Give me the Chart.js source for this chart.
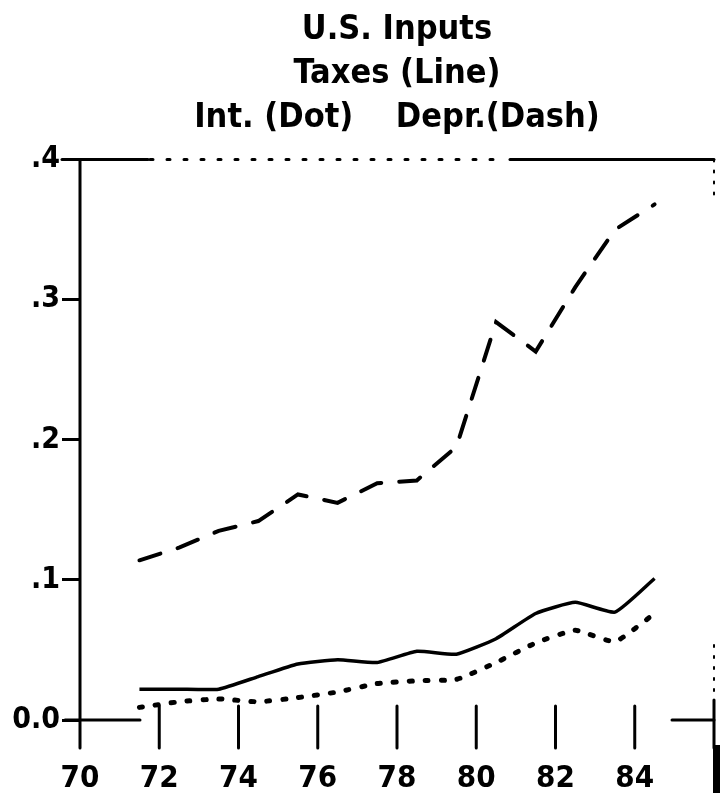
<!DOCTYPE html>
<html>
<head>
<meta charset="utf-8">
<script src="https://cdn.jsdelivr.net/npm/chart.js@4/dist/chart.umd.min.js"></script>
<style>
  html, body { margin: 0; padding: 0; background: #fff; }
  canvas { display: block; }
</style>
</head>
<body>
<canvas id="inputs-chart" width="720" height="803"></canvas>
<script>
// annual data, plotted at mid-year
const years = [1971, 1972, 1973, 1974, 1975, 1976, 1977, 1978, 1979, 1980, 1981, 1982, 1983, 1984];
const taxes = [0.022, 0.022, 0.022, 0.031, 0.040, 0.043, 0.041, 0.049, 0.047, 0.058, 0.076, 0.084, 0.077, 0.101];
const interest = [0.009, 0.013, 0.015, 0.013, 0.016, 0.020, 0.026, 0.028, 0.029, 0.041, 0.055, 0.064, 0.056, 0.076];
const depreciation = [0.114, 0.123, 0.135, 0.142, 0.161, 0.155, 0.169, 0.171, 0.195, 0.284, 0.263, 0.309, 0.350, 0.368];

const xTicks = [70, 72, 74, 76, 78, 80, 82, 84, 86];
const yTicks = [0, 0.1, 0.2, 0.3, 0.4];
const titleLines = ['U.S. Inputs', 'Taxes (Line)', 'Int. (Dot)    Depr.(Dash)'];

const FONT = "'Liberation Sans Narrow', 'DejaVu Sans Condensed', sans-serif";

function toPoints(values) {
    return values.map((v, i) => ({ x: years[i] - 1900 + 0.5, y: v }));
}

// plotter-style axis decorations (frame, crossing tick marks)
const axisDecor = {
    id: 'axisDecor',
    afterDraw(chart) {
        const ctx = chart.ctx;
        const a = chart.chartArea;
        const x = chart.scales.x;
        ctx.save();
        ctx.strokeStyle = '#000';
        ctx.lineWidth = 3;
        ctx.lineCap = 'round';
        const seg = (x1, y1, x2, y2) => {
            ctx.beginPath(); ctx.moveTo(x1, y1); ctx.lineTo(x2, y2); ctx.stroke();
        };
        // y axis
        seg(a.left, a.top, a.left, a.bottom + 28);
        // top frame, faded in the middle
        seg(a.left - 18, a.top, a.left + 68, a.top);
        ctx.setLineDash([3, 14]);
        seg(a.left + 70, a.top, a.left + 425, a.top);
        ctx.setLineDash([]);
        seg(a.left + 430, a.top, a.right, a.top);
        // right edge, dotted
        ctx.lineWidth = 2;
        ctx.setLineDash([2, 9]);
        seg(a.right, a.top, a.right, a.top + 35);
        seg(a.right, a.bottom - 75, a.right, a.bottom - 20);
        ctx.setLineDash([]);
        ctx.lineWidth = 3;
        seg(a.right, a.bottom - 20, a.right, a.bottom + 28);
        // zero line pieces
        seg(a.left - 15, a.bottom, a.left + 60, a.bottom);
        seg(a.right - 42, a.bottom, a.right, a.bottom);
        // x tick marks crossing the axis
        xTicks.slice(1, -1).forEach(v => {
            const px = x.getPixelForValue(v);
            seg(px, a.bottom - 14, px, a.bottom + 28);
        });
        // clipped last label
        ctx.fillStyle = '#000';
        ctx.fillRect(a.right - 1, a.bottom + 25, 10, 48);
        ctx.restore();
    }
};

const data = {
    datasets: [
        {
            label: 'Taxes',
            data: toPoints(taxes),
            borderColor: '#000',
            borderWidth: 3.5,
            pointRadius: 0,
            tension: 0.15,
            borderJoinStyle: 'round'
        },
        {
            label: 'Int.',
            data: toPoints(interest),
            borderColor: '#000',
            borderWidth: 5,
            borderDash: [3, 13],
            borderCapStyle: 'round',
            pointRadius: 0,
            tension: 0.15
        },
        {
            label: 'Depr.',
            data: toPoints(depreciation),
            borderColor: '#000',
            borderWidth: 4,
            borderDash: [22, 18],
            borderCapStyle: 'round',
            pointRadius: 0,
            tension: 0
        }
    ]
};

const config = {
    type: 'line',
    data: data,
    plugins: [axisDecor],
    options: {
        responsive: false,
        animation: false,
        layout: { padding: { left: 0, right: 6, top: 0, bottom: 0 } },
        scales: {
            x: {
                type: 'linear',
                min: 70,
                max: 86,
                afterBuildTicks: s => { s.ticks = xTicks.map(v => ({ value: v })); },
                afterFit: s => { s.height = 83; s.paddingRight = 0; s.paddingLeft = 0; },
                grid: { display: false, drawTicks: false },
                border: { display: false },
                ticks: {
                    color: '#000',
                    padding: 40,
                    maxRotation: 0,
                    font: { family: FONT, size: 31, weight: 'bold' },
                    callback: v => (v < 86 ? String(v) : '')
                }
            },
            y: {
                min: 0,
                max: 0.4,
                afterBuildTicks: s => { s.ticks = yTicks.map(v => ({ value: v })); },
                afterFit: s => { s.width = 80; },
                grid: {
                    display: true,
                    drawOnChartArea: false,
                    drawTicks: true,
                    tickLength: 18,
                    lineWidth: 3,
                    color: '#000'
                },
                border: { display: false },
                ticks: {
                    color: '#000',
                    padding: 2,
                    font: { family: FONT, size: 30, weight: 'bold' },
                    callback: v => (v === 0 ? '0.0' : '.' + Math.round(v * 10))
                }
            }
        },
        plugins: {
            legend: { display: false },
            tooltip: { enabled: false },
            title: {
                display: true,
                fullSize: false,
                text: titleLines,
                color: '#000',
                font: { family: FONT, size: 34, weight: 'bold', lineHeight: 1.3 },
                padding: { top: 8, bottom: 19 }
            }
        }
    }
};

new Chart(document.getElementById('inputs-chart').getContext('2d'), config);
</script>
</body>
</html>
